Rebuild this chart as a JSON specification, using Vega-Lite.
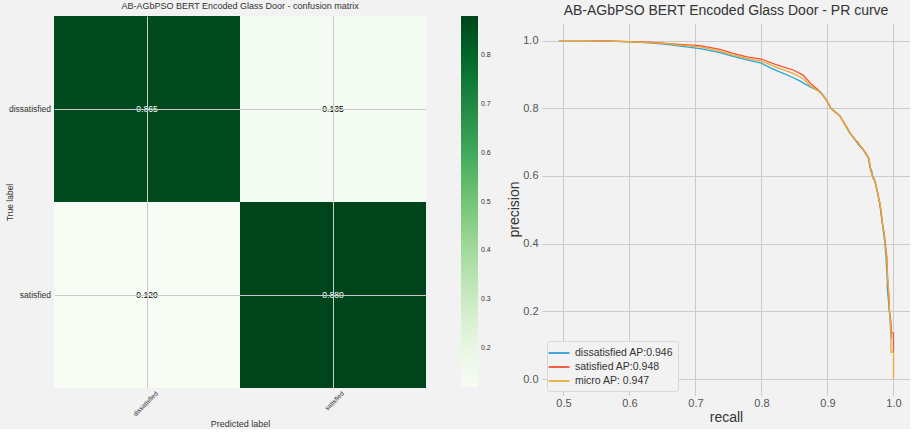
{
  "$schema": "https://vega.github.io/schema/vega-lite/v6.json",
  "background": "#f2f2f2",
  "padding": {"left": 5, "top": 2, "right": 0, "bottom": 0},
  "config": {"font": "Liberation Sans", "view": {"stroke": null}},
  "bounds": "flush",
  "spacing": 116,
  "datasets": {
    "cm": [
      {"actual": "dissatisfied", "pred": "dissatisfied", "v": 0.865},
      {"actual": "dissatisfied", "pred": "satisfied", "v": 0.135},
      {"actual": "satisfied", "pred": "dissatisfied", "v": 0.120},
      {"actual": "satisfied", "pred": "satisfied", "v": 0.880}
    ],
    "grid": [{"g": 0.5}, {"g": 0.6}, {"g": 0.7}, {"g": 0.8}, {"g": 0.9}, {"g": 1.0}],
    "pr": [
      {"s": "dissatisfied AP:0.946", "r": 0.493, "p": 1.0},
      {"s": "dissatisfied AP:0.946", "r": 0.53, "p": 0.9995},
      {"s": "dissatisfied AP:0.946", "r": 0.56, "p": 0.999},
      {"s": "dissatisfied AP:0.946", "r": 0.6, "p": 0.996},
      {"s": "dissatisfied AP:0.946", "r": 0.63, "p": 0.993},
      {"s": "dissatisfied AP:0.946", "r": 0.66, "p": 0.988},
      {"s": "dissatisfied AP:0.946", "r": 0.68, "p": 0.983},
      {"s": "dissatisfied AP:0.946", "r": 0.707, "p": 0.976},
      {"s": "dissatisfied AP:0.946", "r": 0.737, "p": 0.964},
      {"s": "dissatisfied AP:0.946", "r": 0.757, "p": 0.953},
      {"s": "dissatisfied AP:0.946", "r": 0.778, "p": 0.943},
      {"s": "dissatisfied AP:0.946", "r": 0.8, "p": 0.933},
      {"s": "dissatisfied AP:0.946", "r": 0.815, "p": 0.918},
      {"s": "dissatisfied AP:0.946", "r": 0.833, "p": 0.903},
      {"s": "dissatisfied AP:0.946", "r": 0.845, "p": 0.893},
      {"s": "dissatisfied AP:0.946", "r": 0.858, "p": 0.881},
      {"s": "dissatisfied AP:0.946", "r": 0.873, "p": 0.864},
      {"s": "dissatisfied AP:0.946", "r": 0.889, "p": 0.849},
      {"s": "dissatisfied AP:0.946", "r": 0.895, "p": 0.835},
      {"s": "dissatisfied AP:0.946", "r": 0.901, "p": 0.815},
      {"s": "dissatisfied AP:0.946", "r": 0.905, "p": 0.8},
      {"s": "dissatisfied AP:0.946", "r": 0.91, "p": 0.792},
      {"s": "dissatisfied AP:0.946", "r": 0.919, "p": 0.777},
      {"s": "dissatisfied AP:0.946", "r": 0.926, "p": 0.752},
      {"s": "dissatisfied AP:0.946", "r": 0.934, "p": 0.726},
      {"s": "dissatisfied AP:0.946", "r": 0.94, "p": 0.712},
      {"s": "dissatisfied AP:0.946", "r": 0.947, "p": 0.692},
      {"s": "dissatisfied AP:0.946", "r": 0.953, "p": 0.68},
      {"s": "dissatisfied AP:0.946", "r": 0.959, "p": 0.662},
      {"s": "dissatisfied AP:0.946", "r": 0.962, "p": 0.655},
      {"s": "dissatisfied AP:0.946", "r": 0.964, "p": 0.628},
      {"s": "dissatisfied AP:0.946", "r": 0.967, "p": 0.615},
      {"s": "dissatisfied AP:0.946", "r": 0.969, "p": 0.593},
      {"s": "dissatisfied AP:0.946", "r": 0.972, "p": 0.585},
      {"s": "dissatisfied AP:0.946", "r": 0.975, "p": 0.559},
      {"s": "dissatisfied AP:0.946", "r": 0.977, "p": 0.54},
      {"s": "dissatisfied AP:0.946", "r": 0.98, "p": 0.51},
      {"s": "dissatisfied AP:0.946", "r": 0.982, "p": 0.48},
      {"s": "dissatisfied AP:0.946", "r": 0.984, "p": 0.446},
      {"s": "dissatisfied AP:0.946", "r": 0.985, "p": 0.43},
      {"s": "dissatisfied AP:0.946", "r": 0.987, "p": 0.4},
      {"s": "dissatisfied AP:0.946", "r": 0.989, "p": 0.347},
      {"s": "dissatisfied AP:0.946", "r": 0.9906, "p": 0.29},
      {"s": "dissatisfied AP:0.946", "r": 0.9906, "p": 0.269},
      {"s": "dissatisfied AP:0.946", "r": 0.992, "p": 0.24},
      {"s": "dissatisfied AP:0.946", "r": 0.9937, "p": 0.2},
      {"s": "dissatisfied AP:0.946", "r": 0.995, "p": 0.17},
      {"s": "dissatisfied AP:0.946", "r": 0.996, "p": 0.136},
      {"s": "dissatisfied AP:0.946", "r": 0.997, "p": 0.12},
      {"s": "satisfied AP:0.948", "r": 0.493, "p": 1.0},
      {"s": "satisfied AP:0.948", "r": 0.53, "p": 0.9997},
      {"s": "satisfied AP:0.948", "r": 0.56, "p": 0.9993},
      {"s": "satisfied AP:0.948", "r": 0.6, "p": 0.997},
      {"s": "satisfied AP:0.948", "r": 0.63, "p": 0.995},
      {"s": "satisfied AP:0.948", "r": 0.66, "p": 0.991},
      {"s": "satisfied AP:0.948", "r": 0.68, "p": 0.988},
      {"s": "satisfied AP:0.948", "r": 0.707, "p": 0.985},
      {"s": "satisfied AP:0.948", "r": 0.737, "p": 0.974},
      {"s": "satisfied AP:0.948", "r": 0.757, "p": 0.962},
      {"s": "satisfied AP:0.948", "r": 0.778, "p": 0.952},
      {"s": "satisfied AP:0.948", "r": 0.8, "p": 0.945},
      {"s": "satisfied AP:0.948", "r": 0.823, "p": 0.928},
      {"s": "satisfied AP:0.948", "r": 0.848, "p": 0.913},
      {"s": "satisfied AP:0.948", "r": 0.863, "p": 0.898},
      {"s": "satisfied AP:0.948", "r": 0.874, "p": 0.874},
      {"s": "satisfied AP:0.948", "r": 0.886, "p": 0.854},
      {"s": "satisfied AP:0.948", "r": 0.895, "p": 0.832},
      {"s": "satisfied AP:0.948", "r": 0.901, "p": 0.816},
      {"s": "satisfied AP:0.948", "r": 0.905, "p": 0.8},
      {"s": "satisfied AP:0.948", "r": 0.912, "p": 0.788},
      {"s": "satisfied AP:0.948", "r": 0.919, "p": 0.776},
      {"s": "satisfied AP:0.948", "r": 0.926, "p": 0.755},
      {"s": "satisfied AP:0.948", "r": 0.934, "p": 0.728},
      {"s": "satisfied AP:0.948", "r": 0.941, "p": 0.708},
      {"s": "satisfied AP:0.948", "r": 0.946, "p": 0.7},
      {"s": "satisfied AP:0.948", "r": 0.95, "p": 0.688},
      {"s": "satisfied AP:0.948", "r": 0.955, "p": 0.676},
      {"s": "satisfied AP:0.948", "r": 0.959, "p": 0.665},
      {"s": "satisfied AP:0.948", "r": 0.963, "p": 0.648},
      {"s": "satisfied AP:0.948", "r": 0.965, "p": 0.62},
      {"s": "satisfied AP:0.948", "r": 0.968, "p": 0.6},
      {"s": "satisfied AP:0.948", "r": 0.971, "p": 0.59},
      {"s": "satisfied AP:0.948", "r": 0.974, "p": 0.566},
      {"s": "satisfied AP:0.948", "r": 0.977, "p": 0.54},
      {"s": "satisfied AP:0.948", "r": 0.979, "p": 0.52},
      {"s": "satisfied AP:0.948", "r": 0.981, "p": 0.49},
      {"s": "satisfied AP:0.948", "r": 0.983, "p": 0.462},
      {"s": "satisfied AP:0.948", "r": 0.986, "p": 0.43},
      {"s": "satisfied AP:0.948", "r": 0.988, "p": 0.395},
      {"s": "satisfied AP:0.948", "r": 0.99, "p": 0.36},
      {"s": "satisfied AP:0.948", "r": 0.991, "p": 0.3},
      {"s": "satisfied AP:0.948", "r": 0.993, "p": 0.24},
      {"s": "satisfied AP:0.948", "r": 0.994, "p": 0.2},
      {"s": "satisfied AP:0.948", "r": 0.996, "p": 0.17},
      {"s": "satisfied AP:0.948", "r": 0.997, "p": 0.136},
      {"s": "satisfied AP:0.948", "r": 1.0, "p": 0.136},
      {"s": "satisfied AP:0.948", "r": 1.0, "p": 0.08},
      {"s": "micro AP: 0.947", "r": 0.493, "p": 1.0},
      {"s": "micro AP: 0.947", "r": 0.53, "p": 0.9996},
      {"s": "micro AP: 0.947", "r": 0.56, "p": 0.9992},
      {"s": "micro AP: 0.947", "r": 0.6, "p": 0.9965},
      {"s": "micro AP: 0.947", "r": 0.63, "p": 0.994},
      {"s": "micro AP: 0.947", "r": 0.66, "p": 0.99},
      {"s": "micro AP: 0.947", "r": 0.68, "p": 0.986},
      {"s": "micro AP: 0.947", "r": 0.707, "p": 0.981},
      {"s": "micro AP: 0.947", "r": 0.737, "p": 0.969},
      {"s": "micro AP: 0.947", "r": 0.757, "p": 0.957},
      {"s": "micro AP: 0.947", "r": 0.778, "p": 0.947},
      {"s": "micro AP: 0.947", "r": 0.8, "p": 0.939},
      {"s": "micro AP: 0.947", "r": 0.823, "p": 0.921},
      {"s": "micro AP: 0.947", "r": 0.848, "p": 0.903},
      {"s": "micro AP: 0.947", "r": 0.863, "p": 0.888},
      {"s": "micro AP: 0.947", "r": 0.874, "p": 0.866},
      {"s": "micro AP: 0.947", "r": 0.886, "p": 0.851},
      {"s": "micro AP: 0.947", "r": 0.895, "p": 0.834},
      {"s": "micro AP: 0.947", "r": 0.901, "p": 0.815},
      {"s": "micro AP: 0.947", "r": 0.905, "p": 0.8},
      {"s": "micro AP: 0.947", "r": 0.912, "p": 0.79},
      {"s": "micro AP: 0.947", "r": 0.919, "p": 0.776},
      {"s": "micro AP: 0.947", "r": 0.926, "p": 0.753},
      {"s": "micro AP: 0.947", "r": 0.934, "p": 0.727},
      {"s": "micro AP: 0.947", "r": 0.941, "p": 0.71},
      {"s": "micro AP: 0.947", "r": 0.947, "p": 0.695},
      {"s": "micro AP: 0.947", "r": 0.953, "p": 0.682},
      {"s": "micro AP: 0.947", "r": 0.959, "p": 0.664},
      {"s": "micro AP: 0.947", "r": 0.963, "p": 0.65},
      {"s": "micro AP: 0.947", "r": 0.965, "p": 0.625},
      {"s": "micro AP: 0.947", "r": 0.968, "p": 0.598},
      {"s": "micro AP: 0.947", "r": 0.971, "p": 0.588},
      {"s": "micro AP: 0.947", "r": 0.975, "p": 0.562},
      {"s": "micro AP: 0.947", "r": 0.977, "p": 0.54},
      {"s": "micro AP: 0.947", "r": 0.98, "p": 0.515},
      {"s": "micro AP: 0.947", "r": 0.982, "p": 0.485},
      {"s": "micro AP: 0.947", "r": 0.984, "p": 0.45},
      {"s": "micro AP: 0.947", "r": 0.986, "p": 0.425},
      {"s": "micro AP: 0.947", "r": 0.988, "p": 0.39},
      {"s": "micro AP: 0.947", "r": 0.99, "p": 0.35},
      {"s": "micro AP: 0.947", "r": 0.991, "p": 0.3},
      {"s": "micro AP: 0.947", "r": 0.993, "p": 0.25},
      {"s": "micro AP: 0.947", "r": 0.994, "p": 0.2},
      {"s": "micro AP: 0.947", "r": 0.995, "p": 0.17},
      {"s": "micro AP: 0.947", "r": 0.996, "p": 0.14},
      {"s": "micro AP: 0.947", "r": 0.996, "p": 0.08},
      {"s": "micro AP: 0.947", "r": 1.0, "p": 0.08},
      {"s": "micro AP: 0.947", "r": 1.0, "p": 0.0}
    ]
  },
  "hconcat": [
    {
      "width": 372,
      "height": 372,
      "title": {"text": "AB-AGbPSO BERT Encoded Glass Door -  confusion matrix", "fontSize": 9, "fontWeight": "normal", "color": "#333333", "offset": 5},
      "data": {"name": "cm"},
      "encoding": {
        "x": {
          "field": "pred", "type": "nominal", "sort": ["dissatisfied", "satisfied"],
          "scale": {"paddingInner": 0, "paddingOuter": 0},
          "axis": {
            "title": "Predicted label", "titleFontSize": 9, "titleFontWeight": "normal", "titleColor": "#333333",
            "titleY": 35.5, "titleBaseline": "middle",
            "labelAngle": -45, "labelAlign": "right", "labelBaseline": "middle", "labelFontSize": 6.5,
            "labelColor": "#333333", "labelOffset": 10, "labelPadding": 4,
            "ticks": false, "tickSize": 0, "domain": false,
            "grid": true, "gridColor": "#cbcbcb", "bandPosition": 0.5, "zindex": 1
          }
        },
        "y": {
          "field": "actual", "type": "nominal", "sort": ["dissatisfied", "satisfied"],
          "scale": {"paddingInner": 0, "paddingOuter": 0},
          "axis": {
            "title": "True label", "titleFontSize": 8.5, "titleFontWeight": "normal", "titleColor": "#333333",
            "titleX": -40, "titleY": 186, "titleAngle": -90, "titleAlign": "center", "titleBaseline": "bottom",
            "labelFontSize": 8.5, "labelColor": "#333333", "labelPadding": 3.5,
            "ticks": false, "tickSize": 0, "domain": false,
            "grid": true, "gridColor": "#cbcbcb", "bandPosition": 0.5, "zindex": 1
          }
        }
      },
      "layer": [
        {
          "mark": {"type": "rect"},
          "encoding": {
            "color": {
              "field": "v", "type": "quantitative",
              "scale": {
                "domain": [0.12, 0.215, 0.31, 0.405, 0.5, 0.595, 0.69, 0.785, 0.88],
                "range": ["#f7fcf5", "#e5f5e0", "#c7e9c0", "#a1d99b", "#74c476", "#41ab5d", "#238b45", "#006d2c", "#00441b"]
              },
              "legend": {
                "title": null, "orient": "right", "offset": 35,
                "gradientLength": 371, "gradientThickness": 17, "gradientStrokeWidth": 0,
                "values": [0.2, 0.3, 0.4, 0.5, 0.6, 0.7, 0.8], "format": ".1f",
                "labelFontSize": 7, "labelColor": "#333333", "labelOverlap": false, "labelOffset": 3
              }
            }
          }
        },
        {
          "mark": {"type": "text", "fontSize": 8.5},
          "encoding": {
            "text": {"field": "v", "type": "quantitative", "format": ".3f"},
            "color": {"condition": {"test": "datum.v > 0.5", "value": "#ffffff"}, "value": "#000000"}
          }
        }
      ]
    },
    {
      "width": 368,
      "height": 380,
      "title": {"text": "AB-AGbPSO BERT Encoded Glass Door -  PR curve", "fontSize": 14, "fontWeight": "normal", "color": "#333333", "baseline": "alphabetic", "offset": -3.5, "dy": 9},
      "layer": [
        {
          "data": {"name": "grid"},
          "mark": {"type": "rule", "color": "#cbcbcb", "strokeWidth": 1},
          "encoding": {
            "x": {"field": "g", "type": "quantitative", "title": "recall"},
            "y": {"datum": 1.05},
            "y2": {"datum": -0.05}
          }
        },
        {
          "data": {"name": "pr"},
          "mark": {"type": "line", "strokeWidth": 1.3, "clip": true},
          "encoding": {
            "x": {
              "field": "r", "type": "quantitative", "title": "recall",
              "scale": {"domain": [0.4674, 1.025], "nice": false, "zero": false},
              "axis": {
                "values": [0.5, 0.6, 0.7, 0.8, 0.9, 1.0], "format": ".1f", "grid": false, "domain": false, "ticks": false,
                "labelFontSize": 11, "labelColor": "#555555", "labelPadding": 1.5,
                "titleFontSize": 14, "titleFontWeight": "normal", "titleColor": "#333333",
                "titleY": 21, "titleBaseline": "middle"
              }
            },
            "y": {
              "field": "p", "type": "quantitative", "title": "precision",
              "scale": {"domain": [-0.05, 1.0725], "nice": false, "zero": false},
              "axis": {
                "values": [0, 0.2, 0.4, 0.6, 0.8, 1.0], "format": ".1f", "grid": true, "gridColor": "#cbcbcb",
                "domain": false, "ticks": false,
                "labelFontSize": 11, "labelColor": "#555555", "labelPadding": 4,
                "titleFontSize": 14, "titleFontWeight": "normal", "titleColor": "#333333",
                "titleX": -28, "titleY": 193, "titleAngle": -90, "titleAlign": "center", "titleBaseline": "middle"
              }
            },
            "color": {
              "field": "s", "type": "nominal",
              "scale": {"domain": ["dissatisfied AP:0.946", "satisfied AP:0.948", "micro AP: 0.947"], "range": ["#30a2da", "#fc4f30", "#e5ae38"]},
              "legend": {
                "title": null, "orient": "bottom-left", "offset": 5,
                "fillColor": "#f2f2f2", "strokeColor": "#d9d9d9", "padding": 4, "cornerRadius": 2,
                "symbolType": "M-1.5,0H1.5", "symbolSize": 196, "symbolStrokeWidth": 1.8,
                "labelFontSize": 10.5, "labelColor": "#333333", "labelOffset": 8, "rowPadding": 0
              }
            },
            "order": {"value": null}
          }
        }
      ]
    }
  ]
}
